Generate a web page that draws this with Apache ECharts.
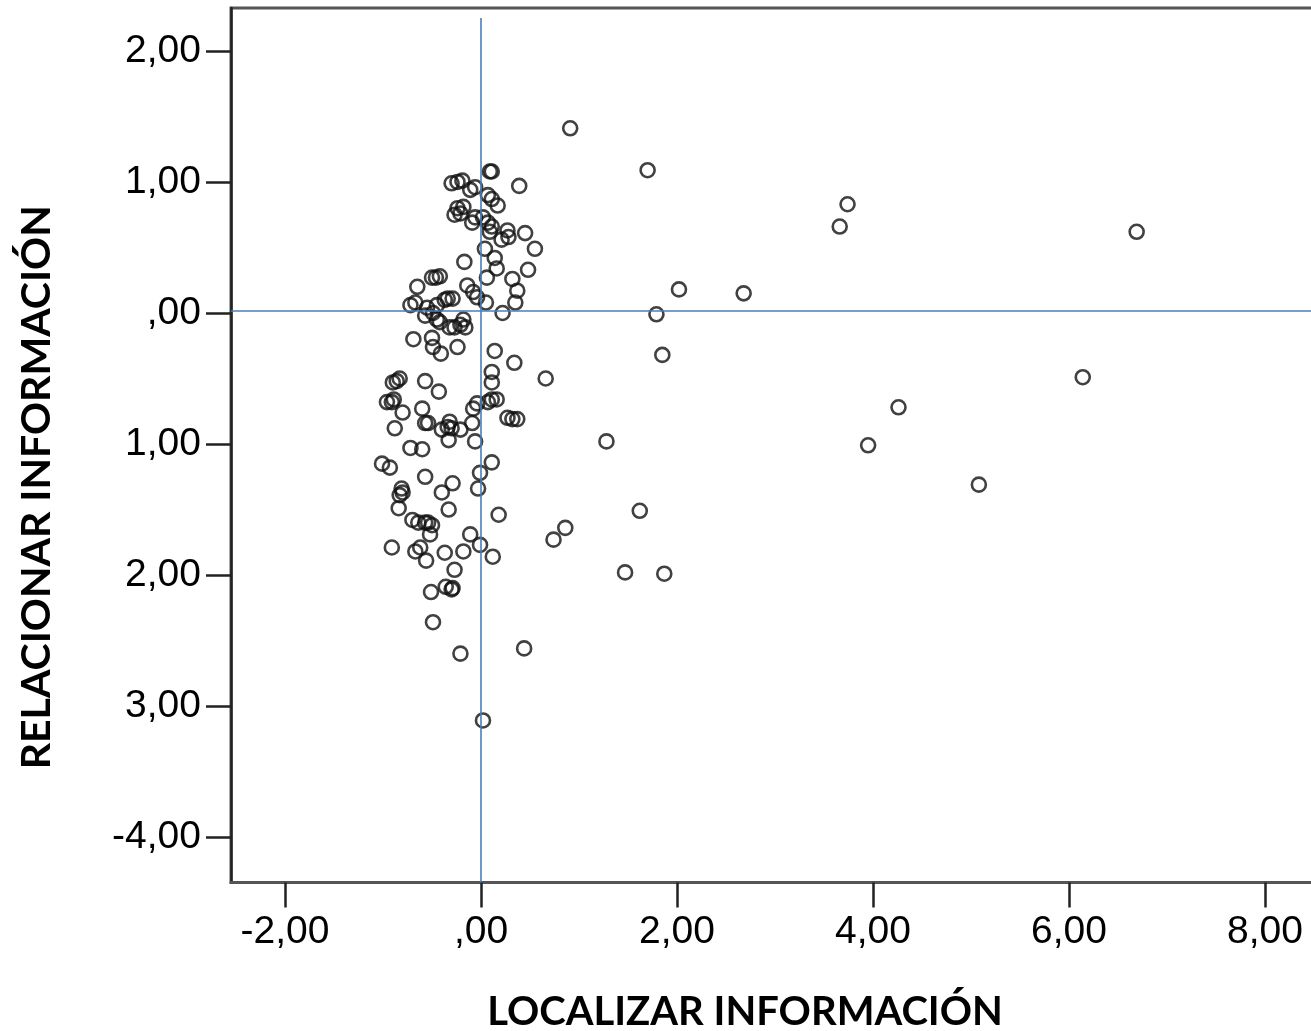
<!DOCTYPE html>
<html>
<head>
<meta charset="utf-8">
<script src="https://cdn.jsdelivr.net/npm/echarts@6/dist/echarts.min.js"></script>
<style>
  html, body { margin: 0; padding: 0; background: #ffffff; }
  #chart { width: 1311px; height: 1031px; }
</style>
</head>
<body>
<div id="chart"></div>
<script>
// Localizar información (x) vs. relacionar información (y), one value pair per case
const localizar = [
  0.91, 1.70, 3.74, 3.66, 6.69, 2.02, 2.68, 1.79, 1.85, 0.66, 6.14, 4.26,
  1.28, 3.95, 5.08, 1.62, 0.86, 0.74, 1.47, 1.87, 0.44, -0.21, 0.02, -0.49,
  0.11, 0.09, 0.39, -0.30, -0.24, -0.19, -0.11, -0.06, 0.07, 0.11, 0.17, -0.24,
  -0.21, -0.27, -0.18, -0.09, -0.06, 0.02, 0.07, 0.11, 0.09, 0.27, 0.28, 0.21,
  0.45, 0.55, 0.04, 0.14, 0.16, 0.48, -0.17, 0.06, 0.32, 0.37, 0.35, 0.22,
  -0.50, -0.46, -0.42, -0.65, -0.14, -0.08, -0.04, 0.05, -0.72, -0.67, -0.55, -0.45,
  -0.37, -0.34, -0.29, -0.49, -0.42, -0.57, -0.18, -0.16, -0.21, -0.32, -0.27, -0.45,
  -0.69, -0.50, -0.49, -0.24, -0.41, 0.14, 0.34, 0.11, -0.90, -0.86, -0.83, -0.57,
  -0.43, 0.11, -0.96, -0.91, -0.89, -0.80, -0.60, -0.88, -0.57, -0.54, -0.40, -0.32,
  -0.34, -0.30, -0.33, -0.21, -0.09, -0.08, -0.04, 0.07, 0.11, 0.16, 0.27, 0.32,
  0.37, -0.06, -0.72, -0.60, -1.01, -0.93, -0.57, 0.11, -0.01, -0.29, -0.03, -0.81,
  -0.80, -0.83, -0.40, -0.84, -0.33, 0.18, -0.70, -0.64, -0.57, -0.54, -0.50, -0.52,
  -0.11, -0.01, -0.91, -0.67, -0.62, -0.56, -0.37, -0.18, 0.12, -0.27, -0.51, -0.36,
  -0.30, -0.29
];
const relacionar = [
  1.41, 1.09, 0.83, 0.66, 0.62, 0.18, 0.15, -0.01, -0.32, -0.50, -0.49, -0.72,
  -0.98, -1.01, -1.31, -1.51, -1.64, -1.73, -1.98, -1.99, -2.56, -2.60, -3.11, -2.36,
  1.08, 1.08, 0.97, 0.99, 1.00, 1.01, 0.94, 0.96, 0.90, 0.87, 0.82, 0.80,
  0.76, 0.75, 0.81, 0.69, 0.73, 0.73, 0.69, 0.66, 0.62, 0.63, 0.58, 0.56,
  0.61, 0.49, 0.49, 0.42, 0.34, 0.33, 0.39, 0.27, 0.26, 0.17, 0.08, 0.00,
  0.27, 0.27, 0.28, 0.20, 0.21, 0.16, 0.12, 0.08, 0.06, 0.08, 0.04, 0.06,
  0.10, 0.11, 0.11, 0.00, -0.07, -0.02, -0.05, -0.11, -0.09, -0.11, -0.11, -0.05,
  -0.20, -0.19, -0.26, -0.26, -0.31, -0.29, -0.38, -0.45, -0.53, -0.52, -0.50, -0.52,
  -0.60, -0.53, -0.68, -0.68, -0.66, -0.76, -0.73, -0.88, -0.84, -0.84, -0.89, -0.83,
  -0.87, -0.88, -0.97, -0.89, -0.84, -0.73, -0.69, -0.68, -0.66, -0.66, -0.80, -0.81,
  -0.81, -0.98, -1.03, -1.04, -1.15, -1.18, -1.25, -1.14, -1.22, -1.30, -1.34, -1.34,
  -1.37, -1.39, -1.37, -1.49, -1.50, -1.54, -1.58, -1.60, -1.60, -1.60, -1.62, -1.69,
  -1.69, -1.77, -1.79, -1.82, -1.79, -1.89, -1.83, -1.82, -1.86, -1.96, -2.13, -2.09,
  -2.11, -2.10
];

// Tick positions and their printed labels
const xTickValues = [-2, 0, 2, 4, 6, 8];
const xTickLabels = ['-2,00', ',00', '2,00', '4,00', '6,00', '8,00'];
const yTickValues = [2, 1, 0, -1, -2, -3, -4];
const yTickLabels = ['2,00', '1,00', ',00', '1,00', '2,00', '3,00', '-4,00'];

// Reference lines
const refX = 0;
const refY = 0.015;

const points = localizar.map((x, i) => [x, relacionar[i]]);

const X_MIN = -2.551, X_MAX = 8.673;
const Y_MIN = -4.347, Y_MAX = 2.328;

const tickFont = '"Liberation Sans", Arial, sans-serif';
const titleFont = 'Lato, "Open Sans", sans-serif';

const chart = echarts.init(document.getElementById('chart'), null, { renderer: 'canvas' });

chart.setOption({
  animation: false,
  backgroundColor: '#ffffff',
  grid: {
    left: 231, top: 8, width: 1100, height: 874.5,
    outerBoundsMode: 'none', containLabel: false,
    show: true, borderColor: '#555555', borderWidth: 3, backgroundColor: 'transparent'
  },
  xAxis: {
    type: 'value', min: X_MIN, max: X_MAX,
    name: 'LOCALIZAR INFORMACIÓN', nameLocation: 'middle', nameGap: 110,
    nameTextStyle: { fontFamily: titleFont, fontWeight: 'bold', fontSize: 40, color: '#000',
      padding: [0, 72, 0, 0] },
    axisLine: { show: true, onZero: false, lineStyle: { color: '#555555', width: 3 } },
    axisTick: { show: true, inside: false, length: 25, customValues: xTickValues,
      lineStyle: { color: '#222', width: 2.5 } },
    axisLabel: { show: true, customValues: xTickValues, margin: 30,
      fontFamily: tickFont, fontSize: 39, color: '#000',
      formatter: v => xTickLabels[xTickValues.indexOf(Math.round(v))] },
    splitLine: { show: false }
  },
  yAxis: {
    type: 'value', min: Y_MIN, max: Y_MAX,
    name: 'RELACIONAR INFORMACIÓN', nameLocation: 'middle', nameGap: 174, nameRotate: 90,
    nameTextStyle: { fontFamily: titleFont, fontWeight: 'bold', fontSize: 41, color: '#000',
      padding: [0, 84, 0, 0] },
    axisLine: { show: true, onZero: false, lineStyle: { color: '#222222', width: 2.5 } },
    axisTick: { show: true, inside: false, length: 25, customValues: yTickValues,
      lineStyle: { color: '#222', width: 2.5 } },
    axisLabel: { show: true, customValues: yTickValues, margin: 30,
      fontFamily: tickFont, fontSize: 39, color: '#000',
      formatter: v => yTickLabels[yTickValues.indexOf(Math.round(v))] },
    splitLine: { show: false }
  },
  series: [{
    type: 'scatter',
    data: points,
    clip: false,
    symbol: 'circle',
    symbolSize: 14,
    itemStyle: { color: 'rgba(0,0,0,0)', borderColor: '#111111', borderWidth: 2.6 },
    emphasis: { disabled: true },
    markLine: {
      silent: true,
      symbol: ['none', 'none'],
      label: { show: false },
      lineStyle: { type: 'solid', color: '#4a7ebb', width: 1.6 },
      data: [
        [{ coord: [refX, 2.252] }, { coord: [refX, Y_MIN] }],
        [{ coord: [X_MIN, refY] }, { coord: [X_MAX, refY] }]
      ]
    }
  }]
});
</script>
</body>
</html>
